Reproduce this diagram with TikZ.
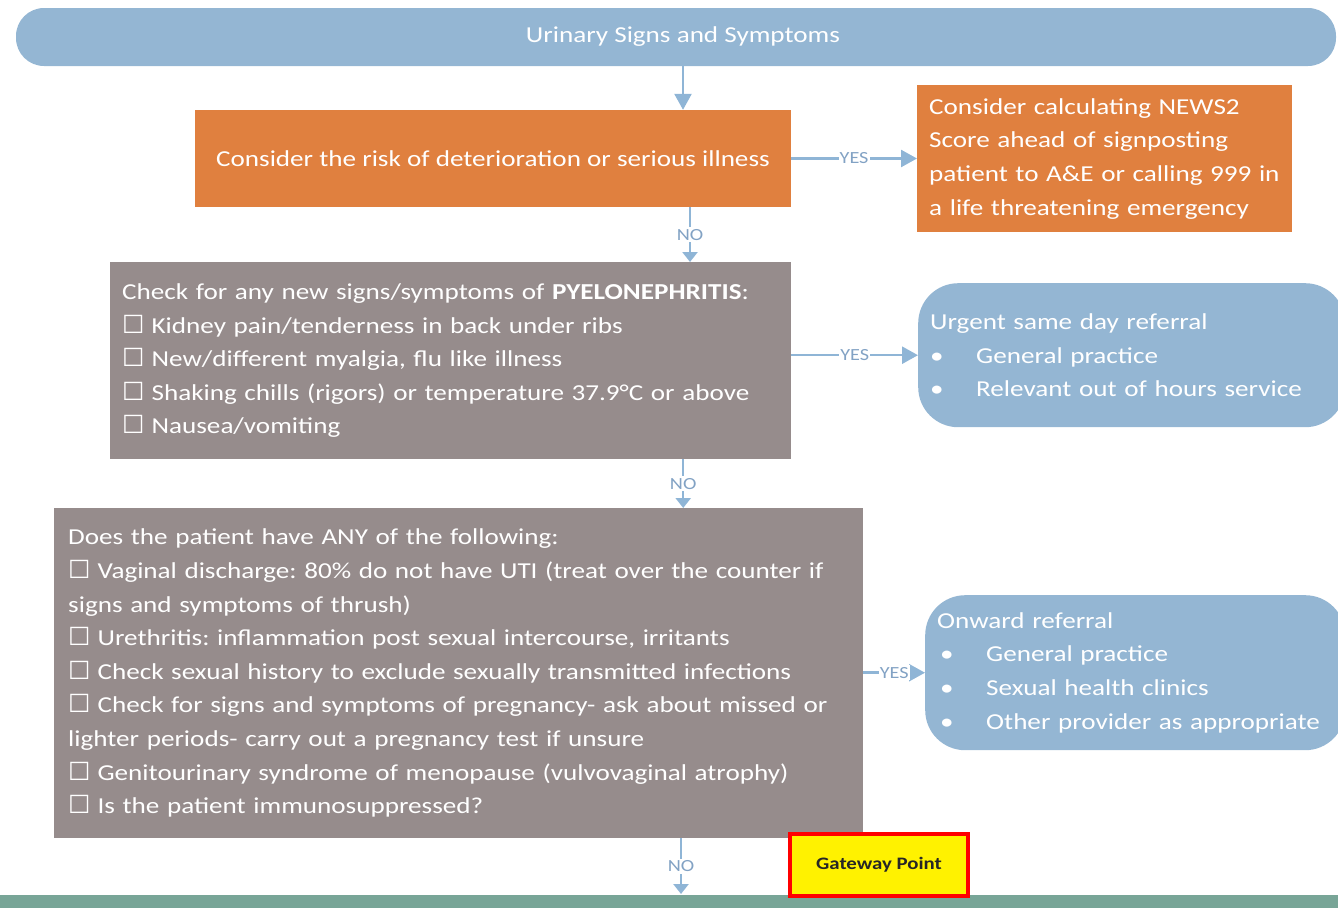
\documentclass[tikz,border=0pt]{standalone}
\usepackage{fontspec}
\setmainfont{Carlito}[FakeStretch=1.19]
\newfontfamily\symfont{DejaVu Sans}
\usetikzlibrary{arrows.meta}
\definecolor{barblue}{HTML}{94B6D3}
\definecolor{boxorange}{HTML}{E0803F}
\definecolor{boxgrey}{HTML}{968C8C}
\definecolor{arrowblue}{HTML}{8FB5D6}
\definecolor{lblblue}{HTML}{82A2C4}
\definecolor{bargreen}{HTML}{78A597}
\newcommand{\cb}{{\symfont\fontsize{25}{25}\selectfont ☐}\kern7pt}
\newcommand{\bul}{\makebox[46pt][l]{•}}
\frenchspacing
\begin{document}
\begin{tikzpicture}[x=1pt,y=-1pt,
 txt/.style={font=\fontsize{22.8}{33.6}\selectfont, text=white},
 box/.style={txt, anchor=north west, align=left, inner xsep=12pt, inner ysep=0pt},
 flow/.style={draw=arrowblue, line width=2.5pt, -{Triangle[length=16pt,width=17pt]}},
 noflow/.style={draw=arrowblue, line width=2.5pt, -{Triangle[length=10pt,width=15pt]}},
 lbl/.style={font=\fontsize{17}{17}\selectfont, text=lblblue, fill=white, inner xsep=1pt, inner ysep=2pt}
]
\useasboundingbox (0,0) rectangle (1338,908);
\fill[bargreen] (0,895) rectangle (1338,908);

\node[fill=barblue, rounded corners=28pt, minimum width=1320pt, minimum height=58pt, inner sep=0pt] (top) at (676,37) {};
\node[txt] (toptxt) at (683,37) {Urinary Signs and Symptoms};

\node[txt, fill=boxorange, minimum width=596pt, minimum height=97pt, inner sep=0pt] (o1) at (493,158.5) {Consider the risk of deterioration or serious illness};

\node[box, fill=boxorange, text width=351pt, minimum height=147pt] (o2) at (917,85) {Consider calculating NEWS2\\Score ahead of signposting\\patient to A\&E or calling 999 in\\a life threatening emergency};

\node[box, fill=boxgrey, text width=657pt, minimum height=197pt] (g1) at (110,262) {Check for any new signs/symptoms of \textbf{PYELONEPHRITIS}:\\
\cb Kidney pain/tenderness in back under ribs\\
\cb New/different myalgia, flu like illness\\
\cb Shaking chills (rigors) or temperature 37.9°C or above\\
\cb Nausea/vomiting};

\node[box, fill=barblue, rounded corners=40pt, text width=403pt, minimum height=144pt] (b2) at (918,283) {Urgent same day referral\\
\bul General practice\\
\bul Relevant out of hours service};

\node[box, fill=boxgrey, inner xsep=14pt, text width=781pt, minimum height=330pt] (g2) at (54,508) {Does the patient have ANY of the following:\\
\cb Vaginal discharge: 80\% do not have UTI (treat over the counter if\\
signs and symptoms of thrush)\\
\cb Urethritis: inflammation post sexual intercourse, irritants\\
\cb Check sexual history to exclude sexually transmitted infections\\
\cb Check for signs and symptoms of pregnancy- ask about missed or\\
lighter periods- carry out a pregnancy test if unsure\\
\cb Genitourinary syndrome of menopause (vulvovaginal atrophy)\\
\cb Is the patient immunosuppressed?};

\node[box, fill=barblue, rounded corners=40pt, text width=396pt, minimum height=155pt] (b3) at (925,595) {Onward referral\\
\hspace*{3pt}\bul General practice\\
\hspace*{3pt}\bul Sexual health clinics\\
\hspace*{3pt}\bul Other provider as appropriate};

\coordinate (barTop) at (681,894);
\node[draw=red, line width=4pt, fill=yellow, minimum width=178pt, minimum height=62pt, font=\fontsize{17.5}{18}\selectfont\bfseries, text=black!85] (gw) at (879,865) {Gateway Point};

\draw[flow] (toptxt |- top.south) -- (toptxt |- o1.north);
\draw[flow] (o1.east) -- (o2.west |- o1.east) node[lbl, midway] {YES};
\draw[noflow] ([xshift=197pt]o1.south) -- ([xshift=197pt]o1.south |- g1.north) node[lbl, midway] {NO};
\draw[flow] (g1.east |- b2.west) -- (b2.west) node[lbl, midway] {YES};
\draw[noflow] ([xshift=232.5pt]g1.south) -- ([xshift=232.5pt]g1.south |- g2.north) node[lbl, midway] {NO};
\draw[flow] (g2.east |- b3.west) -- (b3.west) node[lbl, midway] {YES};
\draw[noflow] (barTop |- g2.south) -- (barTop) node[lbl, midway] {NO};
\end{tikzpicture}
\end{document}
